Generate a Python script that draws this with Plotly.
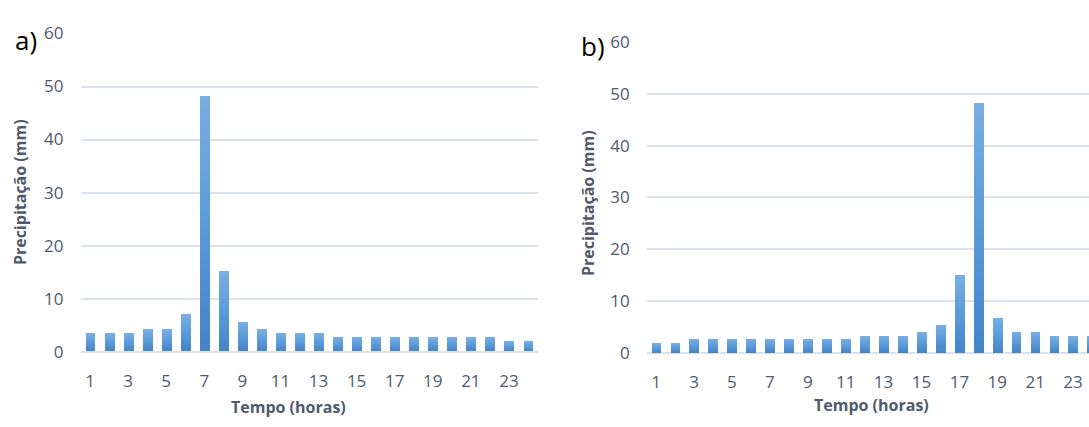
import plotly.graph_objects as go

# Hourly rainfall distributions (mm) for two storm patterns
horas = list(range(1, 25))
precip_a = [3.4, 3.4, 3.4, 4.2, 4.2, 7.0, 48.2, 15.1, 5.5, 4.2, 3.4, 3.4,
            3.4, 2.7, 2.7, 2.7, 2.7, 2.7, 2.7, 2.7, 2.7, 2.7, 2.0, 2.0]
precip_b = [2.0, 2.0, 2.7, 2.7, 2.7, 2.7, 2.7, 2.7, 2.7, 2.7, 2.7, 3.3,
            3.3, 3.3, 4.0, 5.4, 15.1, 48.2, 6.8, 4.0, 4.0, 3.3, 3.3, 3.3]
x_tick_vals = list(range(1, 24, 2))
x_tick_text = [str(v) for v in x_tick_vals]
y_tick_vals = [0, 10, 20, 30, 40, 50, 60]

W, H = 1089, 427
TXT = "#4F5A6C"
GRID = "#DCE2EA"
FONT = "Open Sans"


def px(x):
    return x / W


def py(y):
    return 1 - y / H


fig = go.Figure()
fig.add_trace(go.Bar(x=horas, y=precip_a, xaxis="x", yaxis="y", width=0.52,
                     marker=dict(color="#5B9BD8", line=dict(width=0)),
                     showlegend=False))
fig.add_trace(go.Bar(x=horas, y=precip_b, xaxis="x2", yaxis="y2", width=0.52,
                     marker=dict(color="#5B9BD8", line=dict(width=0)),
                     showlegend=False))

xcommon = dict(tickmode="array", tickvals=x_tick_vals, ticktext=x_tick_text,
               showgrid=False, zeroline=False, showline=False, ticks="",
               tickfont=dict(family=FONT, size=17, color=TXT),
               ticklabelstandoff=17, fixedrange=True)
ycommon = dict(range=[0, 60], tickmode="array", tickvals=y_tick_vals,
               showgrid=True, gridcolor=GRID, gridwidth=1.5,
               zeroline=True, zerolinecolor=GRID, zerolinewidth=1.5,
               showline=False, ticks="",
               tickfont=dict(family=FONT, size=17, color=TXT),
               ticklabelstandoff=16, fixedrange=True)

fig.update_layout(
    width=W, height=H,
    margin=dict(l=0, r=0, t=0, b=0),
    paper_bgcolor="white", plot_bgcolor="white",
    bargap=0,
    xaxis=dict(domain=[px(80.5), px(537.5)], range=[0.5, 24.5], anchor="y", **xcommon),
    yaxis=dict(domain=[py(359), py(22.7)], anchor="x", **ycommon),
    xaxis2=dict(domain=[px(646.7), 1.0], range=[0.5, 23.84], anchor="y2", **xcommon),
    yaxis2=dict(domain=[py(360.3), py(31.7)], anchor="x2", **ycommon),
)

ann_title = dict(family=FONT, size=16, color=TXT, weight="bold")
annotations = [
    dict(text="Tempo (horas)", x=px(288.5), y=py(418), font=ann_title),
    dict(text="Tempo (horas)", x=px(871), y=py(415.5), font=ann_title),
    dict(text="Precipitação (mm)", x=px(19.6), y=py(190.8), textangle=-90, font=ann_title),
    dict(text="Precipitação (mm)", x=px(587.5), y=py(202.5), textangle=-90, font=ann_title),
    dict(text="a)", x=px(25.5), y=py(30), font=dict(family=FONT, size=26, color="black")),
    dict(text="b)", x=px(592.7), y=py(35.8), font=dict(family=FONT, size=26, color="black")),
]
for a in annotations:
    fig.add_annotation(xref="paper", yref="paper", showarrow=False,
                       xanchor="center", yanchor="middle", **a)

# Vertical light-to-dark gradient fill on each bar
gradient_js = """
var gd = document.getElementById('{plot_id}');
function paintBars() {
  var ns = 'http://www.w3.org/2000/svg';
  var svg = gd.querySelector('svg.main-svg');
  if (!svg) return;
  var defs = svg.querySelector('defs');
  if (!document.getElementById('barFade')) {
    var lg = document.createElementNS(ns, 'linearGradient');
    lg.setAttribute('id', 'barFade');
    lg.setAttribute('x1', '0'); lg.setAttribute('y1', '0');
    lg.setAttribute('x2', '0'); lg.setAttribute('y2', '1');
    [['0', '#79AEE1'], ['0.5', '#5B9BDA'], ['1', '#4383C7']].forEach(function (s) {
      var st = document.createElementNS(ns, 'stop');
      st.setAttribute('offset', s[0]);
      st.setAttribute('stop-color', s[1]);
      lg.appendChild(st);
    });
    defs.appendChild(lg);
  }
  gd.querySelectorAll('.barlayer .point path').forEach(function (p) {
    p.style.fill = 'url(#barFade)';
  });
}
paintBars();
gd.on('plotly_afterplot', paintBars);
"""

fig.write_html("out.html", post_script=gradient_js, config={"displayModeBar": False})
